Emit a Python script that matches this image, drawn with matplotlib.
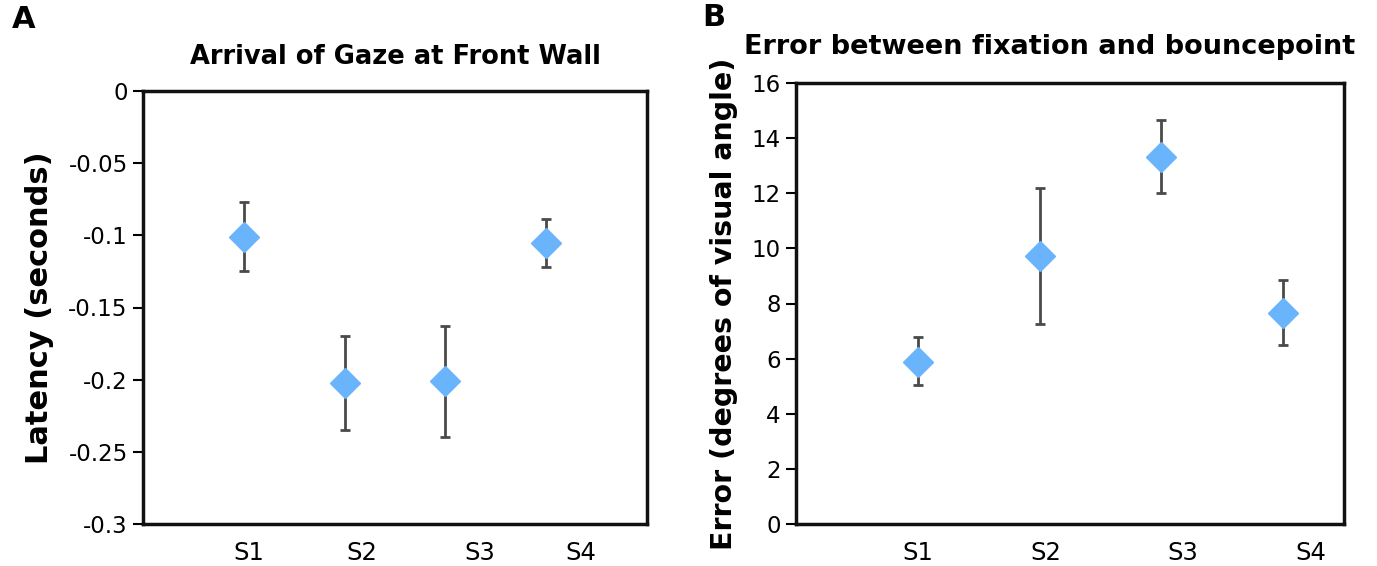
import matplotlib
matplotlib.use("Agg")
import matplotlib.pyplot as plt

# ---- data ----
subjects = ["S1", "S2", "S3", "S4"]
x_pos = [1, 2, 3, 4]

# Panel A: latency (seconds)
latency = [-0.101, -0.202, -0.201, -0.105]
latency_top = [-0.077, -0.170, -0.163, -0.089]
latency_bot = [-0.125, -0.235, -0.240, -0.122]
label_pos_a = [1.05, 2.17, 3.34, 4.34]
yticks_a = [0, -0.05, -0.1, -0.15, -0.2, -0.25, -0.3]
yticklabels_a = ["0", "-0.05", "-0.1", "-0.15", "-0.2", "-0.25", "-0.3"]

# Panel B: error (degrees of visual angle)
err = [5.88, 9.72, 13.32, 7.66]
err_top = [6.79, 12.19, 14.66, 8.85]
err_bot = [5.04, 7.26, 12.01, 6.50]
label_pos_b = [1.0, 2.05, 3.18, 4.23]
yticks_b = [0, 2, 4, 6, 8, 10, 12, 14, 16]

plt.rcParams['font.family'] = ['DejaVu Sans']

W, H = 1377, 566
fig = plt.figure(figsize=(W/100, H/100), dpi=100)
axA = fig.add_axes([143/W, 1-524/H, (647-143)/W, (524-91)/H])
axB = fig.add_axes([796/W, 1-524/H, (1344-796)/W, (524-83)/H])

marker_color = "#6ab4fb"
bar_color = "#4a4a4a"

def draw(ax, vals, tops, bots):
    lo = [v - b for v, b in zip(vals, bots)]
    hi = [t - v for v, t in zip(vals, tops)]
    ax.errorbar(x_pos, vals, yerr=[lo, hi], fmt='none', ecolor=bar_color,
                elinewidth=2, capsize=3.5, capthick=2, zorder=2)
    ax.plot(x_pos, vals, linestyle='none', marker='D', markersize=15,
            color=marker_color, markeredgecolor=marker_color, zorder=3)
    for s in ax.spines.values():
        s.set_linewidth(2.5)
        s.set_color("#111111")
    ax.tick_params(axis='y', direction='out', length=7, width=1.5,
                   labelsize=16.5, pad=4)
    ax.tick_params(axis='x', length=0, labelsize=17.5, pad=12)

draw(axA, latency, latency_top, latency_bot)
axA.set_xlim(0, 5)
axA.set_ylim(-0.3, 0)
axA.set_yticks(yticks_a)
axA.set_yticklabels(yticklabels_a)
axA.set_xticks(label_pos_a)
axA.set_xticklabels(subjects)
axA.set_ylabel("Latency (seconds)", fontsize=22, fontweight='bold', labelpad=10)
fig.text(395/W, 1-57/H, "Arrival of Gaze at Front Wall", ha='center',
         va='center', fontsize=18.5, fontweight='bold')
fig.text(12/W, 1-20/H, "A", ha='left', va='center', fontsize=22,
         fontweight='bold')

draw(axB, err, err_top, err_bot)
axB.set_xlim(0, 4.5)
axB.set_ylim(0, 16)
axB.set_yticks(yticks_b)
axB.set_xticks(label_pos_b)
axB.set_xticklabels(subjects)
axB.set_ylabel("Error (degrees of visual angle)", fontsize=20.5,
               fontweight='bold', labelpad=10)
fig.text(1050/W, 1-47/H, "Error between fixation and bouncepoint",
         ha='center', va='center', fontsize=19.5, fontweight='bold')
fig.text(702/W, 1-17/H, "B", ha='left', va='center', fontsize=22,
         fontweight='bold')

fig.savefig("out.png", dpi=100)
